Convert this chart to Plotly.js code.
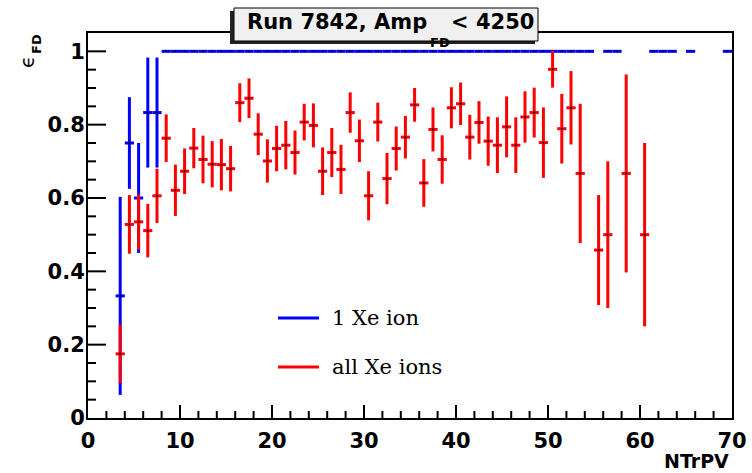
<!DOCTYPE html>
<html>
<head>
<meta charset="utf-8">
<script src="https://cdn.plot.ly/plotly-3.0.1.min.js"></script>
<style>html,body{margin:0;padding:0;background:#fff;}#plot{width:752px;height:473px;}</style>
</head>
<body>
<div id="plot"></div>
<script>
// ---- data ----
const xRed = [3.5,4.5,5.5,6.5,7.5,8.5,9.5,10.5,11.5,12.5,13.5,14.5,15.5,16.5,17.5,18.5,19.5,20.5,21.5,22.5,23.5,24.5,25.5,26.5,27.5,28.5,29.5,30.5,31.5,32.5,33.5,34.5,35.5,36.5,37.5,38.5,39.5,40.5,41.5,42.5,43.5,44.5,45.5,46.5,47.5,48.5,49.5,50.5,51.5,52.5,53.5,55.5,56.5,58.5,60.5];
const yRed = [0.175,0.528,0.535,0.511,0.606,0.763,0.621,0.673,0.736,0.705,0.692,0.691,0.680,0.860,0.872,0.774,0.701,0.735,0.744,0.724,0.807,0.798,0.673,0.724,0.678,0.833,0.756,0.606,0.807,0.653,0.735,0.766,0.854,0.641,0.787,0.705,0.846,0.857,0.766,0.806,0.755,0.744,0.794,0.744,0.821,0.833,0.751,0.951,0.789,0.846,0.667,0.458,0.500,0.667,0.500];
const eRed = [0.08,0.08,0.075,0.073,0.074,0.065,0.07,0.062,0.055,0.065,0.063,0.07,0.062,0.053,0.054,0.057,0.059,0.062,0.066,0.06,0.05,0.06,0.065,0.067,0.067,0.055,0.058,0.067,0.053,0.07,0.06,0.058,0.046,0.065,0.06,0.066,0.056,0.058,0.061,0.058,0.067,0.076,0.083,0.076,0.07,0.068,0.096,0.05,0.095,0.1,0.19,0.15,0.2,0.27,0.25];

const xBlue = [3.5,4.5,5.5,6.5,7.5,8.5,9.5,10.5,11.5,12.5,13.5,14.5,15.5,16.5,17.5,18.5,19.5,20.5,21.5,22.5,23.5,24.5,25.5,26.5,27.5,28.5,29.5,30.5,31.5,32.5,33.5,34.5,35.5,36.5,37.5,38.5,39.5,40.5,41.5,42.5,43.5,44.5,45.5,46.5,47.5,48.5,49.5,50.5,51.5,52.5,53.5,54.5,56.5,57.5,61.5,62.5,63.5,65.5,69.5];
const yBlue = [0.333,0.75,0.6,0.833,0.833,1,1,1,1,1,1,1,1,1,1,1,1,1,1,1,1,1,1,1,1,1,1,1,1,1,1,1,1,1,1,1,1,1,1,1,1,1,1,1,1,1,1,1,1,1,1,1,1,1,1,1,1,1,1];
const eBlue = [0.27,0.125,0.15,0.15,0.15,0,0,0,0,0,0,0,0,0,0,0,0,0,0,0,0,0,0,0,0,0,0,0,0,0,0,0,0,0,0,0,0,0,0,0,0,0,0,0,0,0,0,0,0,0,0,0,0,0,0,0,0,0,0];
const binHalfWidth = 0.5;

const seriesNames = ["1 Xe ion", "all Xe ions"];
const xRange = [0, 70];
const yRange = [0, 1.05];
const xMajorTicks = [0,10,20,30,40,50,60,70];
const xMinorTicks = [2,4,6,8,12,14,16,18,22,24,26,28,32,34,36,38,42,44,46,48,52,54,56,58,62,64,66,68];
const yMajorTicks = [0,0.2,0.4,0.6,0.8,1];
const yMinorTicks = [0.05,0.1,0.15,0.25,0.3,0.35,0.45,0.5,0.55,0.65,0.7,0.75,0.85,0.9,0.95];

// ---- layout helpers (pixel -> paper) ----
const W = 752, H = 473, ML = 88, MR = 20, MT = 33, MB = 55;
const PW = W - ML - MR, PH = H - MT - MB;
const px = v => (v - ML) / PW;
const py = v => (H - MB - v) / PH;
const xToPaper = v => (v - xRange[0]) / (xRange[1] - xRange[0]);
const yToPaper = v => (v - yRange[0]) / (yRange[1] - yRange[0]);

const boldSans = {family: "DejaVu Sans", weight: 700, color: "black"};

function errTrace(x, y, e, color, name) {
  return {
    type: "scatter", mode: "markers", name: name, x: x, y: y, showlegend: false,
    marker: {color: "black", size: 2},
    error_y: {type: "data", array: e, visible: true, color: color, thickness: 3, width: 0},
    error_x: {type: "constant", value: binHalfWidth, visible: true, color: color, thickness: 3, width: 0},
    hoverinfo: "x+y"
  };
}

const data = [
  errTrace(xBlue, yBlue, eBlue, "#0000ff", seriesNames[0]),
  errTrace(xRed, yRed, eRed, "#ff0000", seriesNames[1])
];

// inside tick marks (axis furniture)
function xTick(v, lenPx) {
  const p = xToPaper(v);
  return {type: "line", xref: "paper", yref: "paper", x0: p, x1: p, y0: 0, y1: lenPx / PH,
          line: {color: "black", width: 2}};
}
function yTick(v, lenPx) {
  const p = yToPaper(v);
  return {type: "line", xref: "paper", yref: "paper", x0: 0, x1: lenPx / PW, y0: p, y1: p,
          line: {color: "black", width: 2}};
}
const tickShapes = []
  .concat(xMajorTicks.slice(1, -1).map(v => xTick(v, 13)))
  .concat(xMinorTicks.map(v => xTick(v, 7)))
  .concat(yMajorTicks.slice(1).map(v => yTick(v, 18)))
  .concat(yMinorTicks.map(v => yTick(v, 8)));

const layout = {
  width: W, height: H,
  margin: {l: ML, r: MR, t: MT, b: MB, pad: 0},
  paper_bgcolor: "white", plot_bgcolor: "white",
  showlegend: false,
  xaxis: {
    range: xRange, tickmode: "array", tickvals: xMajorTicks, ticktext: xMajorTicks.map(String),
    ticks: "inside", ticklen: 13, tickcolor: "black",
    showline: true, linecolor: "black", linewidth: 2, mirror: true,
    showgrid: false, zeroline: false, ticklabelstandoff: 3,
    tickfont: Object.assign({size: 21}, boldSans)
  },
  yaxis: {
    range: yRange, tickmode: "array", tickvals: yMajorTicks, ticktext: ["0","0.2","0.4","0.6","0.8","1"],
    ticks: "inside", ticklen: 18, tickcolor: "black",
    showline: true, linecolor: "black", linewidth: 2, mirror: true,
    showgrid: false, zeroline: false, ticklabelstandoff: -3,
    tickfont: Object.assign({size: 21}, boldSans)
  },
  shapes: tickShapes.concat([
    // title box shadow + box
    {type: "rect", xref: "paper", yref: "paper", x0: px(230), x1: px(535), y0: py(44), y1: py(11),
     fillcolor: "#222", line: {width: 0}, layer: "above"},
    {type: "rect", xref: "paper", yref: "paper", x0: px(234), x1: px(538), y0: py(41), y1: py(8),
     fillcolor: "#f0f0f0", line: {color: "black", width: 1}, layer: "above"},
    // legend lines
    {type: "line", xref: "paper", yref: "paper", x0: px(278), x1: px(319), y0: py(318), y1: py(318),
     line: {color: "#0000ff", width: 3}},
    {type: "line", xref: "paper", yref: "paper", x0: px(278), x1: px(319), y0: py(367), y1: py(367),
     line: {color: "#ff0000", width: 3}}
  ]),
  annotations: [
    {xref: "paper", yref: "paper", x: px(245), y: py(22), xanchor: "left", yanchor: "middle",
     text: "Run 7842, Amp", showarrow: false, font: Object.assign({size: 21}, boldSans)},
    {xref: "paper", yref: "paper", x: px(428), y: py(42), xanchor: "left", yanchor: "middle",
     text: "FD", showarrow: false, font: Object.assign({size: 13}, boldSans)},
    {xref: "paper", yref: "paper", x: px(449), y: py(22), xanchor: "left", yanchor: "middle",
     text: "&lt; 4250", showarrow: false, font: Object.assign({size: 21}, boldSans)},
    // axis titles
    {xref: "paper", yref: "paper", x: px(731), y: py(461), xanchor: "right", yanchor: "middle",
     text: "NTrPV", showarrow: false, font: Object.assign({size: 19}, boldSans)},
    {xref: "paper", yref: "paper", x: px(27), y: py(62), xanchor: "center", yanchor: "middle",
     text: "ϵ", textangle: -90, showarrow: false, font: {family: "DejaVu Sans", size: 20, color: "black"}},
    {xref: "paper", yref: "paper", x: px(36), y: py(44), xanchor: "center", yanchor: "middle",
     text: "FD", textangle: -90, showarrow: false, font: Object.assign({size: 13}, boldSans)},
    // legend texts
    {xref: "paper", yref: "paper", x: px(330), y: py(318), xanchor: "left", yanchor: "middle",
     text: seriesNames[0], showarrow: false, font: {family: "DejaVu Serif", size: 21, color: "black"}},
    {xref: "paper", yref: "paper", x: px(330), y: py(367), xanchor: "left", yanchor: "middle",
     text: seriesNames[1], showarrow: false, font: {family: "DejaVu Serif", size: 21, color: "black"}}
  ]
};

Plotly.newPlot("plot", data, layout, {displayModeBar: false, staticPlot: true});
</script>
</body>
</html>
